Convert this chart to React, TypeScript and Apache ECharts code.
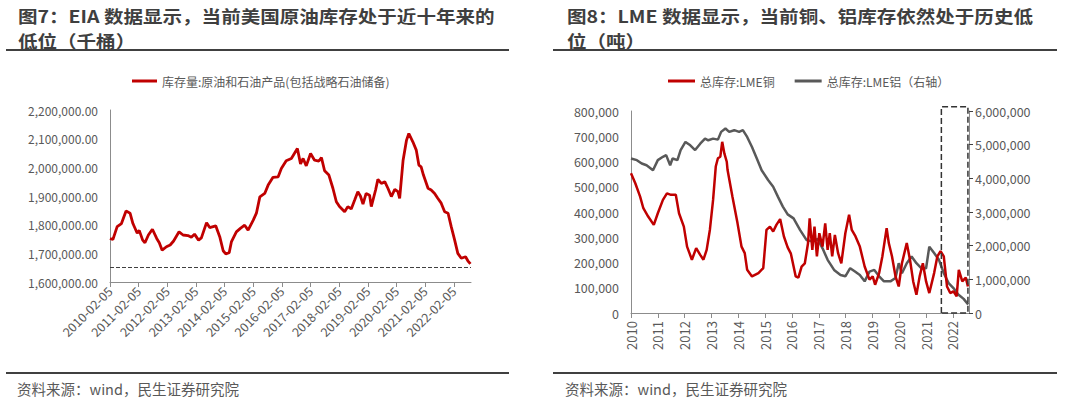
import React, { useEffect, useRef } from 'react';
import * as echarts from 'echarts';

const FONT = '"Noto Sans CJK SC", "Noto Sans", sans-serif';

const oilTitleLines = ['图7：EIA 数据显示，当前美国原油库存处于近十年来的', '低位（千桶）'];
const lmeTitleLines = ['图8：LME 数据显示，当前铜、铝库存依然处于历史低', '位（吨）'];
const sourceText = '资料来源：wind，民生证券研究院';
const oilSeriesName = '库存量:原油和石油产品(包括战略石油储备)';
const copperName = '总库存:LME铜';
const aluName = '总库存:LME铝（右轴）';

// [years since 2010-02-05, thousand barrels]
const oilData: [number, number][] = [
  [0, 1752], [0.1, 1748], [0.25, 1793], [0.4, 1804], [0.56, 1848], [0.7, 1840], [0.8, 1804],
  [0.95, 1770], [1.02, 1780], [1.14, 1746], [1.22, 1737], [1.34, 1764], [1.48, 1784], [1.63, 1752],
  [1.72, 1737], [1.82, 1711], [1.97, 1723], [2.1, 1729], [2.22, 1743], [2.41, 1775], [2.55, 1764],
  [2.72, 1762], [2.84, 1756], [2.95, 1767], [3.09, 1746], [3.19, 1754], [3.37, 1807], [3.48, 1790],
  [3.69, 1796], [3.83, 1758], [3.95, 1709], [4.04, 1698], [4.16, 1702], [4.24, 1741], [4.41, 1775],
  [4.55, 1787], [4.7, 1798], [4.82, 1781], [5.0, 1816], [5.11, 1840], [5.23, 1897], [5.4, 1909],
  [5.52, 1938], [5.69, 1965], [5.87, 1967], [5.98, 1996], [6.15, 2023], [6.33, 2031], [6.54, 2066],
  [6.65, 2012], [6.74, 2031], [6.85, 2005], [7.0, 2048], [7.14, 2025], [7.29, 2022], [7.38, 2034],
  [7.49, 1988], [7.64, 1973], [7.78, 1927], [7.9, 1880], [8.01, 1863], [8.19, 1845], [8.3, 1863],
  [8.42, 1855], [8.54, 1886], [8.65, 1915], [8.74, 1900], [8.83, 1872], [8.94, 1909], [9.06, 1903],
  [9.12, 1863], [9.27, 1921], [9.35, 1958], [9.47, 1944], [9.59, 1950], [9.7, 1927], [9.82, 1898],
  [9.94, 1923], [10.05, 1915], [10.11, 1892], [10.23, 2025], [10.35, 2095], [10.43, 2118], [10.57, 2089],
  [10.69, 2060], [10.78, 2008], [10.86, 2002], [10.94, 1973], [11.1, 1927], [11.21, 1921], [11.33, 1909],
  [11.44, 1892], [11.56, 1875], [11.68, 1845], [11.8, 1840], [11.91, 1793], [12.03, 1746], [12.14, 1700],
  [12.26, 1683], [12.41, 1688], [12.49, 1674], [12.58, 1663],
];
const oilLowLine = 1653000;

// [year, thousand tonnes]
const copperData: [number, number][] = [
  [2010.0, 553], [2010.16, 514], [2010.34, 461], [2010.46, 415], [2010.64, 382], [2010.85, 349],
  [2011.0, 395], [2011.19, 448], [2011.34, 474], [2011.49, 468], [2011.67, 468], [2011.79, 395],
  [2011.97, 342], [2012.09, 263], [2012.27, 211], [2012.43, 257], [2012.58, 230], [2012.7, 211],
  [2012.82, 250], [2012.94, 329], [2013.06, 448], [2013.16, 580], [2013.24, 613], [2013.33, 619],
  [2013.4, 678], [2013.48, 632], [2013.57, 599], [2013.6, 566], [2013.78, 461], [2013.97, 356],
  [2014.12, 263], [2014.24, 237], [2014.33, 171], [2014.51, 145], [2014.75, 158], [2014.93, 178],
  [2015.05, 329], [2015.18, 342], [2015.3, 323], [2015.42, 349], [2015.56, 372], [2015.7, 303],
  [2015.84, 260], [2015.96, 235], [2016.14, 145], [2016.24, 140], [2016.36, 184], [2016.48, 197],
  [2016.6, 277], [2016.66, 375], [2016.76, 250], [2016.84, 342], [2016.93, 224], [2017.02, 316],
  [2017.14, 263], [2017.24, 355], [2017.33, 250], [2017.41, 316], [2017.5, 224], [2017.6, 309],
  [2017.72, 237], [2017.84, 197], [2017.99, 316], [2018.13, 389], [2018.23, 329], [2018.37, 303],
  [2018.53, 263], [2018.71, 184], [2018.89, 132], [2019.01, 145], [2019.1, 112], [2019.25, 158],
  [2019.37, 224], [2019.53, 336], [2019.61, 277], [2019.73, 224], [2019.86, 145], [2019.98, 105],
  [2020.1, 197], [2020.28, 277], [2020.4, 211], [2020.52, 125], [2020.64, 72], [2020.76, 145],
  [2020.88, 197], [2021.0, 125], [2021.12, 79], [2021.3, 158], [2021.42, 224], [2021.54, 245],
  [2021.66, 224], [2021.78, 105], [2021.9, 79], [2022.02, 86], [2022.14, 66], [2022.22, 171],
  [2022.35, 125], [2022.48, 140], [2022.56, 105],
];

// [year, million tonnes]
const aluData: [number, number][] = [
  [2010.0, 4.59], [2010.22, 4.54], [2010.4, 4.44], [2010.58, 4.39], [2010.82, 4.24], [2011.0, 4.54],
  [2011.19, 4.64], [2011.31, 4.69], [2011.46, 4.39], [2011.55, 4.59], [2011.73, 4.54], [2011.85, 4.84],
  [2012.03, 5.08], [2012.21, 4.98], [2012.39, 4.84], [2012.58, 5.03], [2012.76, 5.18], [2012.88, 5.13],
  [2013.06, 5.18], [2013.24, 5.15], [2013.36, 5.38], [2013.52, 5.48], [2013.66, 5.38], [2013.85, 5.43],
  [2014.03, 5.38], [2014.17, 5.43], [2014.33, 5.23], [2014.51, 4.93], [2014.69, 4.59], [2014.87, 4.24],
  [2015.11, 3.95], [2015.3, 3.75], [2015.48, 3.45], [2015.66, 3.16], [2015.84, 2.93], [2016.06, 2.81],
  [2016.3, 2.47], [2016.54, 2.17], [2016.78, 2.12], [2016.96, 2.2], [2017.14, 1.92], [2017.33, 1.58],
  [2017.57, 1.28], [2017.81, 1.13], [2017.99, 1.09], [2018.17, 1.33], [2018.35, 1.23], [2018.53, 1.13],
  [2018.71, 0.94], [2018.89, 1.23], [2019.07, 1.28], [2019.25, 1.09], [2019.43, 0.94], [2019.67, 0.94],
  [2019.86, 1.04], [2019.98, 1.48], [2020.1, 1.18], [2020.28, 1.48], [2020.46, 1.68], [2020.64, 1.48],
  [2020.82, 1.33], [2021.0, 1.33], [2021.12, 1.97], [2021.3, 1.78], [2021.48, 1.58], [2021.66, 1.18],
  [2021.84, 0.89], [2022.02, 0.74], [2022.2, 0.55], [2022.4, 0.42], [2022.57, 0.25],
];

// dashed highlight box on the LME chart: [year, copper tonnes]
const boxFrom = 2021.57;
const boxTo = 2022.56;
const boxTop = 817000;

const RED = '#C00000';
const GRAY = '#595959';
const AXIS = '#8c8c8c';
const LABEL = '#595959';

const isInt = (v: number) => Math.abs(v - Math.round(v)) < 1e-6;

export default function App() {
  const ref = useRef<HTMLDivElement>(null);
  useEffect(() => {
    if (!ref.current) return;
    const chart = echarts.init(ref.current, null, { renderer: 'svg' });
    const boxData = [
      [boxFrom, 0], [boxFrom, boxTop], [boxTo, boxTop], [boxTo, 0], [boxFrom, 0],
    ];
    const sepLine = (x1: number, x2: number, y: number) => ({
      type: 'line', shape: { x1, y1: y, x2, y2: y }, style: { stroke: '#404040', lineWidth: 2 }, silent: true,
    });
    const heading = (text: string, x: number, y: number) => ({
      type: 'text', x, y, scaleX: 1.15, silent: true,
      style: {
        text, fill: '#3f3f3f', fontSize: 17, fontWeight: 'bold', fontFamily: FONT,
        align: 'left', verticalAlign: 'middle',
      },
    });
    const srcStyle = { fontSize: 14.5, fontWeight: 'normal', color: LABEL, lineHeight: 16, fontFamily: FONT };
    const option: any = {
      animation: false,
      textStyle: { fontFamily: FONT },
      title: [
        { text: sourceText, left: 17, top: 380, padding: 0, textStyle: srcStyle },
        { text: sourceText, left: 565, top: 380, padding: 0, textStyle: srcStyle },
      ],
      graphic: [
        heading(oilTitleLines[0], 18, 16),
        heading(oilTitleLines[1], 18, 41),
        heading(lmeTitleLines[0], 567, 16),
        heading(lmeTitleLines[1], 567, 41),
        sepLine(6, 509, 50), sepLine(553, 1057, 50), sepLine(6, 509, 373), sepLine(553, 1057, 373),
      ],
      legend: [
        { data: [oilSeriesName], left: 132, top: 75, icon: 'rect', itemWidth: 25, itemHeight: 3, padding: 0,
          textStyle: { fontSize: 12, color: LABEL, fontFamily: FONT } },
        { data: [copperName, aluName], left: 668, top: 75, icon: 'rect', itemWidth: 27, itemHeight: 3, itemGap: 20, padding: 0,
          textStyle: { fontSize: 12, color: LABEL, fontFamily: FONT } },
      ],
      grid: [
        { left: 110, top: 110, width: 361, height: 172 },
        { left: 631, top: 111, width: 338, height: 202 },
      ],
      xAxis: [
        {
          type: 'value', gridIndex: 0, min: 0, max: 12.6, interval: 1,
          axisLine: { show: true, lineStyle: { color: AXIS, width: 1 } },
          axisTick: { show: true, length: 5, lineStyle: { color: AXIS } },
          splitLine: { show: false },
          axisLabel: {
            rotate: 45, margin: 7, color: LABEL, fontSize: 12.5, fontFamily: FONT, showMaxLabel: false,
            formatter: (v: number) => (isInt(v) ? `${2010 + Math.round(v)}-02-05` : ''),
          },
        },
        {
          type: 'value', gridIndex: 1, min: 2010, max: 2022.6, interval: 1,
          axisLine: { show: true, lineStyle: { color: AXIS, width: 1 } },
          axisTick: { show: true, length: 5, lineStyle: { color: AXIS } },
          splitLine: { show: false },
          axisLabel: {
            rotate: 90, margin: 8, color: LABEL, fontSize: 13, fontFamily: FONT, showMaxLabel: false,
            formatter: (v: number) => (isInt(v) ? `${Math.round(v)}` : ''),
          },
        },
      ],
      yAxis: [
        {
          type: 'value', gridIndex: 0, min: 1600000, max: 2200000, interval: 100000,
          axisLine: { show: true, lineStyle: { color: AXIS, width: 1 } },
          axisTick: { show: false }, splitLine: { show: false },
          axisLabel: {
            color: LABEL, fontSize: 12, margin: 12, fontFamily: FONT,
            formatter: (v: number) => v.toLocaleString('en-US', { minimumFractionDigits: 2, maximumFractionDigits: 2 }),
          },
        },
        {
          type: 'value', gridIndex: 1, min: 0, max: 800000, interval: 100000,
          axisLine: { show: true, lineStyle: { color: AXIS, width: 1 } },
          axisTick: { show: false }, splitLine: { show: false },
          axisLabel: { color: LABEL, fontSize: 12.5, margin: 12, fontFamily: FONT, formatter: (v: number) => v.toLocaleString('en-US') },
        },
        {
          type: 'value', gridIndex: 1, position: 'right', min: 0, max: 6000000, interval: 1000000,
          axisLine: { show: true, lineStyle: { color: AXIS, width: 1 } },
          axisTick: { show: true, length: 4, lineStyle: { color: '#404040' } }, splitLine: { show: false },
          axisLabel: { color: LABEL, fontSize: 12.5, margin: 6, fontFamily: FONT, formatter: (v: number) => v.toLocaleString('en-US') },
        },
      ],
      series: [
        {
          name: oilSeriesName, type: 'line', xAxisIndex: 0, yAxisIndex: 0, showSymbol: false, symbol: 'none',
          data: oilData.map(([t, v]) => [t, v * 1000]),
          lineStyle: { color: RED, width: 2.8 }, itemStyle: { color: RED },
          markLine: {
            silent: true, symbol: 'none', label: { show: false },
            lineStyle: { color: '#404040', type: 'dashed', width: 1 },
            data: [{ yAxis: oilLowLine }],
          },
        },
        {
          name: copperName, type: 'line', xAxisIndex: 1, yAxisIndex: 1, showSymbol: false, symbol: 'none',
          data: copperData.map(([t, v]) => [t, v * 1000]),
          lineStyle: { color: RED, width: 2.5 }, itemStyle: { color: RED }, z: 3,
        },
        {
          name: aluName, type: 'line', xAxisIndex: 1, yAxisIndex: 2, showSymbol: false, symbol: 'none',
          data: aluData.map(([t, v]) => [t, v * 1000000]),
          lineStyle: { color: GRAY, width: 2.5 }, itemStyle: { color: GRAY }, z: 2,
        },
        {
          name: 'box', type: 'line', xAxisIndex: 1, yAxisIndex: 1, showSymbol: false, symbol: 'none',
          clip: false, silent: true, data: boxData,
          lineStyle: { color: '#333333', width: 1.5, type: 'dashed' }, z: 5,
        },
      ],
    };
    chart.setOption(option);
    return () => chart.dispose();
  }, []);
  return (
    <div
      ref={ref}
      style={{ position: 'fixed', left: 0, top: 0, width: 1080, height: 399, background: '#ffffff' }}
    />
  );
}
